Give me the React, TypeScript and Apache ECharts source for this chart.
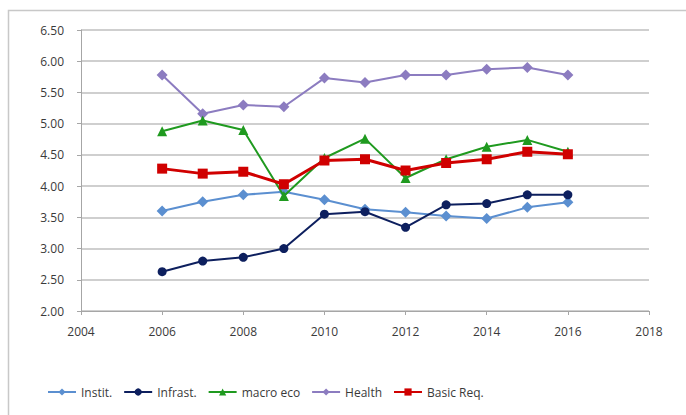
import React, { useEffect, useRef } from "react";
import * as echarts from "echarts";

const years = [2006, 2007, 2008, 2009, 2010, 2011, 2012, 2013, 2014, 2015, 2016];
const instit = [3.6, 3.75, 3.86, 3.91, 3.78, 3.63, 3.58, 3.52, 3.48, 3.66, 3.74];
const infrast = [2.63, 2.8, 2.86, 3.0, 3.55, 3.59, 3.34, 3.7, 3.72, 3.86, 3.86];
const macroEco = [4.88, 5.05, 4.9, 3.84, 4.45, 4.76, 4.13, 4.43, 4.63, 4.74, 4.55];
const health = [5.78, 5.16, 5.3, 5.27, 5.73, 5.66, 5.78, 5.78, 5.87, 5.9, 5.78];
const basicReq = [4.28, 4.2, 4.23, 4.03, 4.41, 4.43, 4.25, 4.37, 4.43, 4.55, 4.51];

const seriesNames = ["Instit.", "Infrast.", "macro eco", "Health", "Basic Req."];

const pair = (vals: number[]) => years.map((y, i) => [y, vals[i]]);

export default function App() {
  const ref = useRef<HTMLDivElement>(null);
  useEffect(() => {
    if (!ref.current) return;
    const chart = echarts.init(ref.current, null, { renderer: "svg" });
    const font = "Open Sans";
    const mk = (name: string, vals: number[], color: string, symbol: string, size: number, width: number, z: number) => ({
      name,
      type: "line",
      data: pair(vals),
      symbol,
      symbolSize: size,
      z,
      lineStyle: { color, width },
      itemStyle: { color },
    });
    chart.setOption({
      animation: false,
      backgroundColor: "#ffffff",
      textStyle: { fontFamily: font },
      graphic: [
        {
          type: "rect",
          shape: { x: 8.5, y: 10.5, width: 700, height: 420 },
          style: { fill: "none", stroke: "#c8c8c8", lineWidth: 1.5 },
          silent: true,
          z: -1,
        },
      ],
      grid: { left: 81, right: 37, top: 30, bottom: 104, containLabel: false },
      xAxis: {
        type: "value",
        min: 2004,
        max: 2018,
        interval: 2,
        axisLine: { show: true, lineStyle: { color: "#a6a6a6", width: 1 } },
        axisTick: { show: true, inside: false, length: 4, lineStyle: { color: "#a6a6a6" } },
        splitLine: { show: false },
        axisLabel: {
          color: "#3a3a3a",
          fontSize: 12,
          fontFamily: font,
          margin: 14,
          formatter: (v: number) => String(v),
        },
      },
      yAxis: {
        type: "value",
        min: 2,
        max: 6.5,
        interval: 0.5,
        axisLine: { show: true, lineStyle: { color: "#a6a6a6", width: 1 } },
        axisTick: { show: true, inside: false, length: 4, lineStyle: { color: "#a6a6a6" } },
        splitLine: { show: true, lineStyle: { color: "#bfbfbf", width: 1.5 } },
        axisLabel: {
          color: "#3a3a3a",
          fontSize: 12,
          fontFamily: font,
          margin: 17,
          formatter: (v: number) => v.toFixed(2),
        },
      },
      legend: {
        data: seriesNames,
        left: 42,
        top: 381,
        itemWidth: 28,
        itemHeight: 9,
        itemGap: 11,
        textStyle: { color: "#3a3a3a", fontSize: 12, fontFamily: font },
      },
      series: [
        mk(seriesNames[0], instit, "#5b8fd0", "diamond", 11, 2, 2),
        mk(seriesNames[1], infrast, "#0d1f5e", "circle", 9, 2, 3),
        mk(seriesNames[2], macroEco, "#1f9a1f", "triangle", 10, 2, 4),
        mk(seriesNames[3], health, "#8c7cc0", "diamond", 11, 2, 2),
        mk(seriesNames[4], basicReq, "#d00000", "rect", 10, 3, 5),
      ],
    });
    return () => chart.dispose();
  }, []);
  return (
    <div
      ref={ref}
      style={{ position: "fixed", left: 0, top: 0, width: 686, height: 415, background: "#fff" }}
    />
  );
}
